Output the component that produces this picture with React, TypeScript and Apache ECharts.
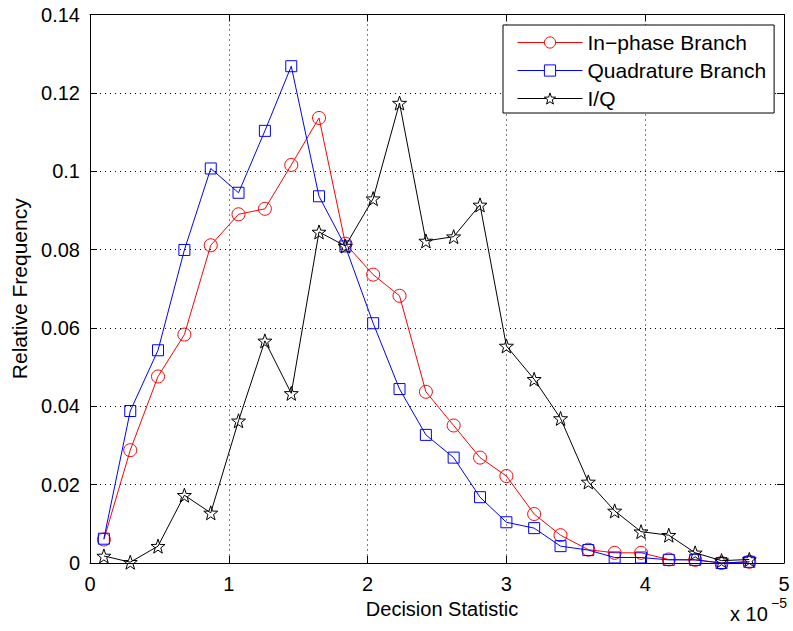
import React, { useEffect, useRef } from "react";
import * as echarts from "echarts";

const xValues = [0.10, 0.29, 0.49, 0.68, 0.87, 1.07, 1.26, 1.45, 1.65, 1.84, 2.04, 2.23, 2.42, 2.62, 2.81, 3.00, 3.20, 3.39, 3.59, 3.78, 3.97, 4.17, 4.36, 4.55, 4.75];
const inPhase = [0.0060, 0.0288, 0.0476, 0.0583, 0.0811, 0.0890, 0.0904, 0.1016, 0.1136, 0.0815, 0.0736, 0.0682, 0.0437, 0.0351, 0.0269, 0.0222, 0.0125, 0.0071, 0.0034, 0.0026, 0.0026, 0.0009, 0.0008, 0.0000, 0.0003];
const quadrature = [0.0062, 0.0388, 0.0543, 0.0799, 0.1007, 0.0945, 0.1103, 0.1268, 0.0936, 0.0808, 0.0612, 0.0444, 0.0327, 0.0269, 0.0168, 0.0104, 0.0089, 0.0043, 0.0033, 0.0014, 0.0014, 0.0008, 0.0008, 0.0000, 0.0003];
const iq = [0.0018, 0.0002, 0.0043, 0.0173, 0.0128, 0.0363, 0.0567, 0.0433, 0.0845, 0.0809, 0.0930, 0.1174, 0.0822, 0.0833, 0.0914, 0.0554, 0.0469, 0.0369, 0.0207, 0.0133, 0.0080, 0.0071, 0.0026, 0.0006, 0.0009];
const seriesNames = ["In\u2212phase Branch", "Quadrature Branch", "I/Q"];
const xTickLabels = ["0", "1", "2", "3", "4", "5"];
const yTickLabels = ["0", "0.02", "0.04", "0.06", "0.08", "0.1", "0.12", "0.14"];

const FONT = "'Liberation Sans', Arial, Helvetica, sans-serif";
const STAR = "path://M0,-10 L2.35,-3.24 L9.51,-3.09 L3.8,1.24 L5.88,8.09 L0,4.2 L-5.88,8.09 L-3.8,1.24 L-9.51,-3.09 L-2.35,-3.24 Z";

function pairs(ys: number[]) {
  return xValues.map((x, i) => [x, ys[i]]);
}

export default function App() {
  const ref = useRef<HTMLDivElement>(null);
  useEffect(() => {
    if (!ref.current) return;
    const chart = echarts.init(ref.current, null, { renderer: "svg" });
    const dotted = { show: true, lineStyle: { color: "#000", type: [1, 4] as any, width: 1 } };
    const axisLine = { show: true, onZero: false, lineStyle: { color: "#000", width: 1 } };
    const tick = { show: true, inside: true, length: 7, lineStyle: { color: "#000" } };
    chart.setOption({
      animation: false,
      textStyle: { fontFamily: FONT },
      grid: { left: 90, right: 9, top: 14.5, bottom: 68, containLabel: false },
      legend: {
        orient: "vertical",
        left: 503,
        top: 25,
        data: seriesNames,
        backgroundColor: "#fff",
        borderColor: "#000",
        borderWidth: 1,
        borderRadius: 0,
        padding: [7, 8, 4, 14],
        itemWidth: 65,
        itemHeight: 14,
        itemGap: 7,
        itemStyle: { color: "#ffffff", borderWidth: 1 },
        lineStyle: { width: 1 },
        textStyle: { fontSize: 21, color: "#000", fontFamily: FONT, lineHeight: 20 },
      },
      xAxis: [
        {
          type: "value",
          min: 0,
          max: 5,
          interval: 1,
          position: "bottom",
          name: "Decision Statistic",
          nameLocation: "middle",
          nameGap: 34,
          nameTextStyle: { fontSize: 20, color: "#000", fontFamily: FONT, padding: [0, 0, 0, 10] },
          axisLine,
          axisTick: tick,
          axisLabel: {
            fontSize: 20,
            color: "#000",
            margin: 11,
            formatter: (v: number) => xTickLabels[Math.round(v)] ?? "",
          },
          splitLine: dotted,
        },
        {
          type: "value",
          min: 0,
          max: 5,
          interval: 1,
          position: "top",
          axisLine,
          axisTick: tick,
          axisLabel: { show: false },
          splitLine: { show: false },
        },
      ],
      yAxis: [
        {
          type: "value",
          min: 0,
          max: 0.14,
          interval: 0.02,
          position: "left",
          name: "Relative Frequency",
          nameLocation: "middle",
          nameGap: 60,
          nameTextStyle: { fontSize: 21, color: "#000", fontFamily: FONT },
          axisLine,
          axisTick: tick,
          axisLabel: {
            fontSize: 20,
            color: "#000",
            margin: 10,
            formatter: (v: number) => yTickLabels[Math.round(v / 0.02)] ?? "",
          },
          splitLine: dotted,
        },
        {
          type: "value",
          min: 0,
          max: 0.14,
          interval: 0.02,
          position: "right",
          axisLine,
          axisTick: tick,
          axisLabel: { show: false },
          splitLine: { show: false },
        },
      ],
      graphic: [
        {
          type: "text",
          left: 730,
          top: 604,
          style: { text: "x 10", fontSize: 20, fill: "#000", fontFamily: FONT },
        },
        {
          type: "text",
          left: 771,
          top: 596,
          style: { text: "\u22125", fontSize: 14, fill: "#000", fontFamily: FONT },
        },
      ],
      series: [
        {
          name: seriesNames[0],
          type: "line",
          data: pairs(inPhase),
          symbol: "circle",
          symbolSize: 13,
          showAllSymbol: true,
          lineStyle: { color: "#ff0000", width: 1 },
          itemStyle: { color: "rgba(0,0,0,0)", borderColor: "#ff0000", borderWidth: 1 },
          emphasis: { disabled: true },
          z: 2,
        },
        {
          name: seriesNames[1],
          type: "line",
          data: pairs(quadrature),
          symbol: "rect",
          symbolSize: 11,
          showAllSymbol: true,
          lineStyle: { color: "#0000ff", width: 1 },
          itemStyle: { color: "rgba(0,0,0,0)", borderColor: "#0000ff", borderWidth: 1 },
          emphasis: { disabled: true },
          z: 3,
        },
        {
          name: seriesNames[2],
          type: "line",
          data: pairs(iq),
          symbol: STAR,
          symbolSize: 14,
          showAllSymbol: true,
          lineStyle: { color: "#000000", width: 1 },
          itemStyle: { color: "rgba(0,0,0,0)", borderColor: "#000000", borderWidth: 1 },
          emphasis: { disabled: true },
          z: 4,
        },
      ],
    });
    return () => chart.dispose();
  }, []);
  return (
    <div
      ref={ref}
      style={{ position: "fixed", left: 0, top: 0, width: 793, height: 631, background: "#fff" }}
    />
  );
}
